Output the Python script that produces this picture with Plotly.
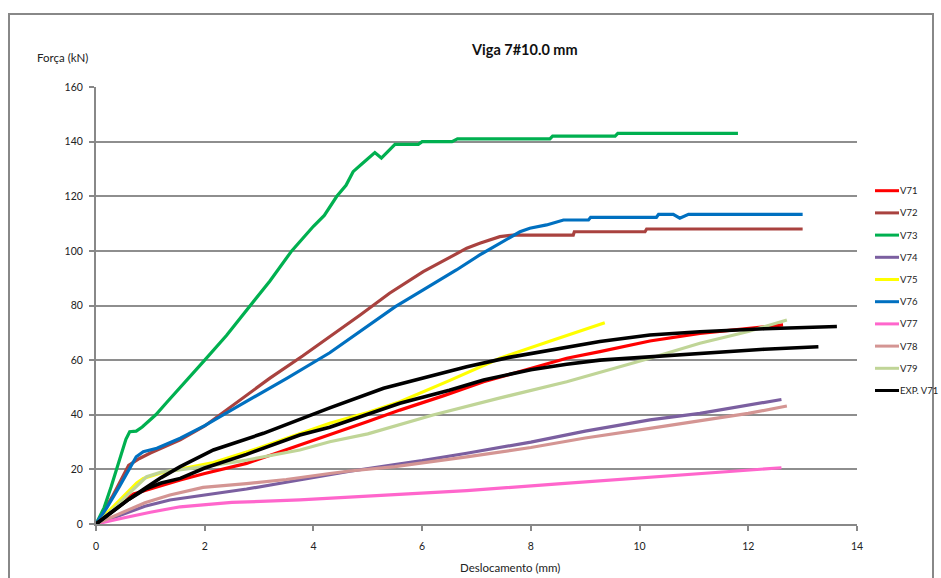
import plotly.graph_objects as go

# ---------------- data ----------------
v71_x = [0, 0.3, 0.69, 0.93, 1.2, 1.55, 2.0, 2.77, 3.75, 4.3, 5.0, 5.59, 6.4, 7.13, 8.0, 8.66, 9.27, 10.19, 11.11, 12.0, 12.64]
v71_y = [0, 5.5, 11.0, 12.5, 14.0, 16.1, 18.5, 22.2, 28.9, 32.6, 37.5, 41.7, 47.0, 52.1, 57.0, 60.7, 63.1, 67.0, 69.8, 71.5, 72.9]

v72_x = [0, 0.3, 0.6, 0.8, 1.0, 1.55, 2.0, 2.6, 3.2, 3.8, 4.3, 4.86, 5.4, 6.02, 6.5, 6.82, 7.06, 7.43, 7.67, 8.78, 8.8, 10.1, 10.13, 13.0]
v72_y = [0, 10, 21.5, 24, 26, 30.8, 35.9, 44.5, 53.4, 61.5, 68.5, 76.5, 84.5, 92.4, 97.5, 101, 102.8, 105.2, 105.8, 105.8, 107, 107, 108, 108]

v73_x = [0, 0.15, 0.28, 0.43, 0.55, 0.62, 0.74, 0.85, 1.1, 1.3, 1.6, 2.0, 2.4, 2.83, 3.2, 3.6, 4.0, 4.2, 4.43, 4.6, 4.73, 4.9, 5.13, 5.25, 5.35, 5.5, 5.93, 6.0, 6.55, 6.65, 8.35, 8.4, 9.55, 9.6, 11.81]
v73_y = [0, 6, 13.7, 23.4, 31, 33.8, 34, 35.5, 40, 44.5, 51, 60, 69, 80, 89, 100, 109, 113, 120, 124, 129, 132, 136, 134, 136, 139, 139, 140, 140, 141, 141, 142, 142, 143, 143]

v74_x = [0, 0.3, 0.6, 0.9, 1.36, 1.97, 2.77, 3.5, 4.3, 4.67, 5.5, 6.0, 6.82, 8.0, 9.0, 10.19, 11.11, 12.0, 12.61]
v74_y = [0, 2.2, 4.4, 6.5, 8.8, 10.6, 12.8, 15.3, 18.0, 19.3, 21.8, 23.2, 25.9, 30.0, 34.0, 38.1, 40.5, 43.5, 45.6]

v75_x = [0, 0.3, 0.63, 0.75, 0.87, 1.18, 1.6, 2.16, 2.8, 3.75, 4.3, 5.0, 5.59, 6.5, 7.43, 8.4, 9.36]
v75_y = [0, 6, 13, 15, 16.7, 18.6, 20.3, 22.5, 26.5, 33.2, 36.9, 40.8, 44.8, 52.5, 60.7, 67.3, 73.7]

v76_x = [0, 0.2, 0.43, 0.6, 0.74, 0.87, 1.12, 1.55, 2.0, 2.6, 3.0, 3.51, 4.3, 5.04, 5.5, 6.02, 6.63, 7.06, 7.43, 7.8, 7.98, 8.29, 8.6, 9.06, 9.1, 10.31, 10.35, 10.62, 10.74, 10.9, 13.0]
v76_y = [0, 6, 13.7, 20, 24.6, 26.5, 27.7, 31.4, 36, 43, 47.5, 53.3, 62.7, 72.9, 79.5, 85.7, 93, 98.5, 102.8, 107, 108.3, 109.5, 111.3, 111.3, 112.3, 112.3, 113.4, 113.4, 112, 113.4, 113.4]

v77_x = [0, 0.2, 0.5, 1.0, 1.55, 1.97, 2.5, 3.75, 5.0, 6.82, 8.5, 10.19, 11.5, 12.61]
v77_y = [0, 0.8, 2.2, 4.3, 6.3, 7.0, 7.9, 8.8, 10.3, 12.2, 14.7, 17.1, 19.0, 20.6]

v78_x = [0, 0.3, 0.6, 0.9, 1.36, 1.97, 2.77, 3.5, 4.3, 4.67, 5.5, 6.0, 6.82, 8.0, 9.0, 10.19, 11.11, 12.0, 12.71]
v78_y = [0, 2.5, 5, 7.8, 10.6, 13.4, 14.8, 16.3, 18.5, 19.4, 21, 22.3, 24.6, 28, 31.5, 35, 37.8, 40.5, 43.2]

v79_x = [0, 0.3, 0.6, 0.93, 1.2, 1.55, 2.0, 2.77, 3.75, 4.3, 5.0, 6.2, 7.4, 8.66, 10.19, 11.11, 12.0, 12.71]
v79_y = [0, 5, 11, 17.3, 19, 19.8, 21, 23.4, 27.1, 30.1, 33, 39.9, 46, 52.1, 60.7, 66.2, 70.5, 74.7]

exp_a_x = [0, 0.3, 0.6, 0.93, 1.2, 1.55, 2.16, 3.08, 3.75, 4.3, 5.29, 6.0, 6.82, 7.6, 8.35, 9.27, 10.19, 11.11, 12.3, 13.63]
exp_a_y = [0, 4.5, 9, 13.5, 17, 21, 27.1, 33.2, 38.5, 42.5, 49.7, 53.5, 57.6, 61, 63.7, 66.8, 69.2, 70.4, 71.5, 72.3]

exp_b_x = [0, 0.3, 0.6, 0.93, 1.2, 1.55, 2.0, 2.77, 3.75, 4.3, 5.59, 6.5, 7.13, 8.0, 8.66, 9.27, 10.19, 11.11, 12.3, 13.29]
exp_b_y = [0, 4.5, 9, 13, 15, 16.7, 20.5, 25.5, 32.6, 35.4, 44.2, 49, 52.7, 56.5, 58.5, 60.0, 61.3, 62.5, 64, 64.9]

series_names = ["V71", "V72", "V73", "V74", "V75", "V76", "V77", "V78", "V79", "EXP. V71"]
series_colors = ["#FF0000", "#A9423F", "#00B050", "#7B5FA0", "#FFFF00", "#0070C0", "#FF66CC", "#D49593", "#C0D597", "#000000"]

title_text = "Viga 7#10.0 mm"
x_title = "Deslocamento (mm)"
y_title = "Força (kN)"

# ---------------- figure ----------------
FONT = "Lato, 'Open Sans', sans-serif"
fig = go.Figure()

xs = [v71_x, v72_x, v73_x, v74_x, v75_x, v76_x, v77_x, v78_x, v79_x]
ys = [v71_y, v72_y, v73_y, v74_y, v75_y, v76_y, v77_y, v78_y, v79_y]
for i in range(9):
    fig.add_trace(go.Scatter(x=xs[i], y=ys[i], mode="lines", name=series_names[i],
                             line=dict(color=series_colors[i], width=3.2)))
fig.add_trace(go.Scatter(x=exp_a_x, y=exp_a_y, mode="lines", name=series_names[9],
                         line=dict(color=series_colors[9], width=3.6)))
fig.add_trace(go.Scatter(x=exp_b_x, y=exp_b_y, mode="lines", name=series_names[9],
                         line=dict(color=series_colors[9], width=3.6)))

# page pixels; the page body margin is removed so the figure fills the window
W, H = 941, 578
L, R, T, B = 96, 857, 87, 524
pw, ph = R - L, B - T

def px_x(p):
    return (p - L) / pw

def px_y(p):
    return (B - p) / ph

shapes = [dict(type="rect", xref="paper", yref="paper",
               x0=px_x(9), x1=px_x(933), y0=px_y(620), y1=px_y(14),
               line=dict(color="#888888", width=2), layer="below")]
annotations = [
    dict(text="<b>" + title_text + "</b>", xref="paper", yref="paper",
         x=px_x(524), y=px_y(50), xanchor="center", yanchor="middle",
         showarrow=False, font=dict(size=14.5, color="#111111")),
    dict(text=y_title, xref="paper", yref="paper",
         x=px_x(35), y=px_y(57), xanchor="left", yanchor="middle",
         showarrow=False, font=dict(size=11.5, color="#222222")),
    dict(text=x_title, xref="paper", yref="paper",
         x=px_x(510), y=px_y(567), xanchor="center", yanchor="middle",
         showarrow=False, font=dict(size=11.5, color="#222222")),
]

# legend (key lines + labels to the right of the plot)
for i, (nm, col) in enumerate(zip(series_names, series_colors)):
    yy = px_y(190.7 + 22.2 * i)
    shapes.append(dict(type="line", xref="paper", yref="paper",
                       x0=px_x(875), x1=px_x(899), y0=yy, y1=yy,
                       line=dict(color=col, width=3)))
    annotations.append(dict(text=nm, xref="paper", yref="paper",
                            x=px_x(899), y=yy, xanchor="left", yanchor="middle",
                            showarrow=False, borderpad=0,
                            font=dict(size=9.5, color="#222222")))

fig.update_layout(
    width=W, height=H,
    margin=dict(l=L, r=W - R, t=T, b=H - B, pad=0),
    paper_bgcolor="white", plot_bgcolor="white",
    font=dict(family=FONT, size=10, color="#222222"),
    showlegend=False,
    xaxis=dict(range=[0, 14], dtick=2, tick0=0, showgrid=False, zeroline=False,
               showline=True, linecolor="#888888", linewidth=2,
               ticks="outside", ticklen=5, tickcolor="#888888", tickwidth=2,
               ticklabelstandoff=6, tickfont=dict(size=10.5)),
    yaxis=dict(range=[0, 160], dtick=20, tick0=0, showgrid=True, gridcolor="#8E8E8E",
               gridwidth=2, zeroline=False, showline=True, linecolor="#888888", linewidth=2,
               ticks="outside", ticklen=5, tickcolor="#888888", tickwidth=2,
               ticklabelstandoff=4, tickfont=dict(size=10.5)),
    shapes=shapes,
    annotations=annotations,
)

fig.write_html(
    "out.html",
    config={"displayModeBar": False},
    post_script="document.body.style.margin='0';document.body.style.overflow='hidden';",
)
